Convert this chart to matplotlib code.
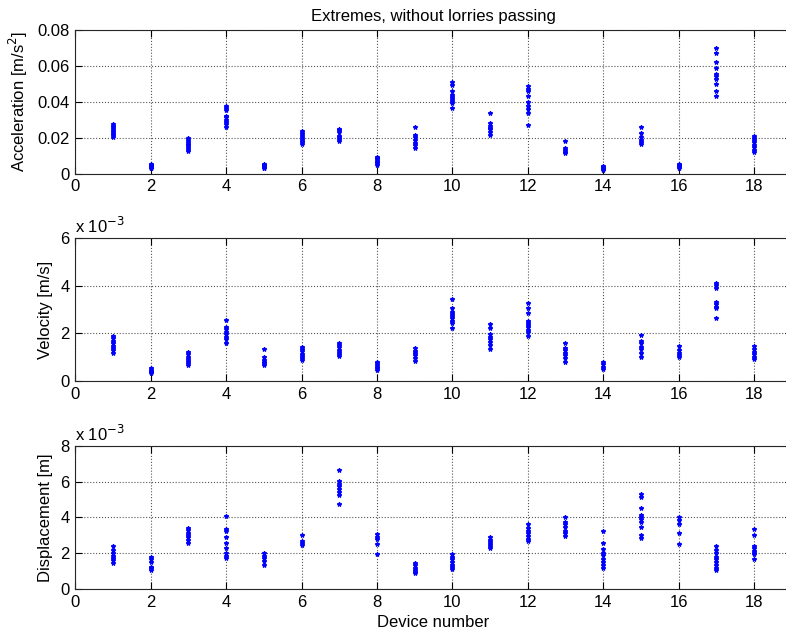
import numpy as np
import matplotlib.pyplot as plt

plt.rcParams['font.family'] = ['Liberation Sans', 'DejaVu Sans']
plt.rcParams['font.size'] = 12

# ==========================================
# data: extremes per device
# ==========================================
devices = list(range(1, 19))

# acceleration [m/s^2]
acc = [
    [0.0276, 0.0268, 0.0258, 0.0248, 0.0240, 0.0230, 0.0222, 0.0214, 0.0207],
    [0.0054, 0.0050, 0.0045, 0.0040, 0.0036, 0.0032, 0.0029],
    [0.0198, 0.0188, 0.0178, 0.0168, 0.0158, 0.0148, 0.0138, 0.0127],
    [0.0379, 0.0366, 0.0357, 0.0323, 0.0316, 0.0301, 0.0291, 0.0278, 0.0259],
    [0.0054, 0.0050, 0.0046, 0.0042, 0.0038, 0.0034, 0.0032],
    [0.0239, 0.0228, 0.0216, 0.0205, 0.0194, 0.0184, 0.0174, 0.0164],
    [0.0252, 0.0244, 0.0235, 0.0211, 0.0203, 0.0192, 0.0185],
    [0.0095, 0.0088, 0.0080, 0.0072, 0.0064, 0.0057, 0.0050],
    [0.0259, 0.0216, 0.0207, 0.0188, 0.0173, 0.0160, 0.0142],
    [0.0513, 0.0492, 0.0464, 0.0440, 0.0427, 0.0416, 0.0403, 0.0394, 0.0369],
    [0.0336, 0.0285, 0.0267, 0.0257, 0.0250, 0.0235, 0.0216],
    [0.0489, 0.0472, 0.0461, 0.0435, 0.0399, 0.0379, 0.0362, 0.0341, 0.0272],
    [0.0181, 0.0142, 0.0133, 0.0123, 0.0114],
    [0.0045, 0.0040, 0.0034, 0.0028, 0.0020],
    [0.0259, 0.0226, 0.0203, 0.0188, 0.0175, 0.0164],
    [0.0054, 0.0048, 0.0042, 0.0036, 0.0030],
    [0.0700, 0.0673, 0.0623, 0.0588, 0.0558, 0.0543, 0.0528, 0.0500, 0.0461, 0.0435],
    [0.0211, 0.0198, 0.0188, 0.0175, 0.0160, 0.0147, 0.0132, 0.0121],
]

# velocity [1e-3 m/s]
vel = [
    [1.89, 1.79, 1.69, 1.58, 1.48, 1.38, 1.29, 1.16],
    [0.53, 0.47, 0.42, 0.37, 0.32],
    [1.23, 1.12, 1.02, 0.92, 0.82, 0.74, 0.67],
    [2.57, 2.29, 2.17, 2.08, 1.98, 1.86, 1.75, 1.61],
    [1.33, 1.02, 0.88, 0.81, 0.74, 0.67],
    [1.44, 1.35, 1.25, 1.15, 1.05, 0.96, 0.88],
    [1.58, 1.50, 1.41, 1.32, 1.22, 1.13, 1.05],
    [0.81, 0.74, 0.67, 0.60, 0.53, 0.46],
    [1.37, 1.28, 1.18, 1.08, 0.98, 0.86],
    [3.45, 3.06, 2.92, 2.82, 2.73, 2.64, 2.52, 2.43, 2.24],
    [2.40, 2.22, 1.98, 1.86, 1.75, 1.65, 1.51, 1.33],
    [3.27, 3.06, 2.88, 2.52, 2.43, 2.36, 2.26, 2.15, 2.05, 1.89],
    [1.58, 1.37, 1.30, 1.19, 1.09, 0.95, 0.81],
    [0.81, 0.71, 0.60, 0.49],
    [1.94, 1.70, 1.58, 1.44, 1.33, 1.19, 1.02],
    [1.47, 1.30, 1.16, 1.09, 1.02],
    [4.14, 4.04, 3.90, 3.31, 3.23, 3.13, 3.06, 2.64],
    [1.47, 1.33, 1.23, 1.13, 1.02, 0.93],
]

# displacement [1e-3 m]
disp = [
    [2.42, 2.17, 2.00, 1.86, 1.73, 1.60, 1.43],
    [1.77, 1.66, 1.53, 1.25, 1.16, 1.06],
    [3.42, 3.29, 3.14, 3.01, 2.88, 2.73, 2.58],
    [4.07, 3.33, 3.25, 2.92, 2.58, 2.30, 2.03, 1.84, 1.71],
    [1.99, 1.84, 1.71, 1.58, 1.34],
    [2.99, 2.69, 2.58, 2.45],
    [6.64, 6.02, 5.89, 5.74, 5.61, 5.43, 5.24, 4.72],
    [3.07, 2.92, 2.77, 2.51, 1.93],
    [1.43, 1.32, 1.20, 1.08, 0.97, 0.87],
    [1.95, 1.80, 1.65, 1.50, 1.35, 1.22, 1.11],
    [2.88, 2.76, 2.64, 2.52, 2.40, 2.27],
    [3.61, 3.42, 3.25, 3.10, 2.95, 2.82, 2.70],
    [4.03, 3.75, 3.62, 3.47, 3.25, 3.10, 2.96],
    [3.23, 2.55, 2.21, 2.03, 1.90, 1.66, 1.52, 1.34, 1.15],
    [5.33, 5.15, 4.55, 4.13, 4.00, 3.89, 3.76, 3.48, 3.01, 2.83],
    [4.03, 3.88, 3.62, 3.14, 2.51],
    [2.40, 2.17, 1.99, 1.80, 1.65, 1.52, 1.33, 1.15, 1.06],
    [3.33, 2.99, 2.40, 2.27, 2.14, 2.03, 1.95, 1.65],
]

ylabels = ['Acceleration [m/s$^2$]', 'Velocity [m/s]', 'Displacement [m]']
yticks = [[0, 0.02, 0.04, 0.06, 0.08], [0, 2, 4, 6], [0, 2, 4, 6, 8]]
ytick_labels = [['0', '0.02', '0.04', '0.06', '0.08'], ['0', '2', '4', '6'], ['0', '2', '4', '6', '8']]
series = [acc, vel, disp]

# ==========================================
# figure
# ==========================================
fig = plt.figure(figsize=(7.86, 6.35), dpi=100)
bottoms = [0.7265, 0.400, 0.0724]
heights = [0.2258, 0.2247, 0.2257]

axes = []
for i in range(3):
    ax = fig.add_axes([0.0958, bottoms[i], 0.9114, heights[i]])
    axes.append(ax)
    for dev, vals in zip(devices, series[i]):
        ax.plot([dev] * len(vals), vals, linestyle='none', marker='*',
                markersize=3.2, color='#0000ff', markeredgewidth=0.9)
    ax.set_xlim(0, 19)
    ax.set_ylim(yticks[i][0], yticks[i][-1])
    ax.set_xticks(range(0, 19, 2))
    ax.set_yticks(yticks[i])
    ax.set_yticklabels(ytick_labels[i])
    ax.grid(True, linestyle=':', color='#555555', linewidth=0.8)
    ax.tick_params(direction='in', length=5, top=True, right=True,
                   labelsize=12, pad=4)
    ax.set_ylabel(ylabels[i], fontsize=12, labelpad=5)
    for s in ax.spines.values():
        s.set_linewidth(0.8)
        s.set_color('#262626')
    if i > 0:
        ax.text(0.0, 1.015, r'x 10$^{-3}$', transform=ax.transAxes,
                fontsize=12, ha='left', va='bottom')

axes[0].set_title('Extremes, without lorries passing', fontsize=12, pad=7)
axes[2].set_xlabel('Device number', fontsize=12, labelpad=4)

plt.savefig('out.png', dpi=100)
